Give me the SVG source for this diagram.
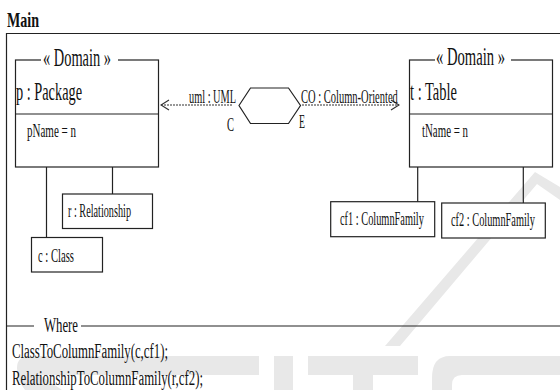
<svg xmlns="http://www.w3.org/2000/svg" width="560" height="390" viewBox="0 0 560 390">
<style>
text{font-family:"Liberation Serif","Times New Roman",serif;fill:#111}
.b{fill:#fff;stroke:#222;stroke-width:1.2}
.l{fill:none;stroke:#222;stroke-width:1.2}
.d{fill:none;stroke:#333;stroke-width:1.2;stroke-dasharray:2 1}
.wm{fill:#e8e8e8}
.t{font-size:25px}.n{font-size:25px}.a{font-size:18px}.s{font-size:18px}.w{font-size:20px}
</style>
<defs><marker id="o" markerWidth="10" markerHeight="12" refX="9" refY="6" orient="auto" markerUnits="userSpaceOnUse"><path d="M1 1L9 6L1 11" fill="none" stroke="#333" stroke-width="1.2"/></marker></defs>
<g id="watermark">
<path class="wm" d="M385 346L535 172L560 187V200L537 184L400 346Z"/>
<path class="wm" d="M30 356H259V375H40L62 390H25Q17 380 17 368Q17 356 30 356Z"/>
<rect class="wm" x="274" y="356" width="19" height="34"/>
<rect class="wm" x="308" y="356" width="110" height="19"/>
<rect class="wm" x="353" y="375" width="20" height="15"/>
<path class="wm" d="M450 356H560V375H462Q452 375 452 385V390H432V378Q432 356 450 356Z"/>
</g>
<text x="7" y="27" font-weight="bold" font-size="21" textLength="32" lengthAdjust="spacingAndGlyphs">Main</text>
<g id="frame"><path class="l" d="M560 33.500H6.500V390"/></g>
<g id="connectors">
<path class="l" d="M46.500 167V238M112.500 167V194M417.700 167V202M523.300 167V203"/>
<path class="d" d="M232 105H161" marker-end="url(#o)"/>
<path class="d" d="M302 105H399" marker-end="url(#o)"/>
</g>
<g id="domain-package">
<rect class="b" x="15.500" y="60" width="143" height="107"/>
<path d="M41 60H118" stroke="#fff" stroke-width="3"/>
<path class="l" d="M15.500 114H158.500"/>
<text class="t" x="43" y="66" textLength="68" lengthAdjust="spacingAndGlyphs">« Domain  »</text>
<text class="n" x="16" y="100" textLength="66" lengthAdjust="spacingAndGlyphs">p : Package</text>
<text class="a" x="27" y="137" textLength="49" lengthAdjust="spacingAndGlyphs">pName = n</text>
</g>
<g id="domain-table">
<rect class="b" x="409.500" y="60" width="143" height="107"/>
<path d="M435 60H511" stroke="#fff" stroke-width="3"/>
<path class="l" d="M409.500 114H552.500"/>
<text class="t" x="436" y="65" textLength="69" lengthAdjust="spacingAndGlyphs">« Domain  »</text>
<text class="n" x="410" y="100" textLength="47" lengthAdjust="spacingAndGlyphs">t : Table</text>
<text class="a" x="422" y="137" textLength="46" lengthAdjust="spacingAndGlyphs">tName = n</text>
</g>
<g id="relation">
<path class="b" d="M239 105.500L250.500 88H288.500L300.500 105.500L288.500 123.500H250.500Z"/>
<text class="a" x="189" y="103" textLength="47" lengthAdjust="spacingAndGlyphs">uml : UML</text>
<text class="a" x="227" y="131" textLength="7" lengthAdjust="spacingAndGlyphs">C</text>
<text class="a" transform="translate(301 103) scale(.584 1)">CO : Column-Oriented</text>
<text class="a" x="299" y="128" textLength="6" lengthAdjust="spacingAndGlyphs">E</text>
</g>
<g id="node-r"><rect class="b" x="62.500" y="194" width="90" height="34.500"/><text class="s" x="68" y="217" textLength="63" lengthAdjust="spacingAndGlyphs">r : Relationship</text></g>
<g id="node-c"><rect class="b" x="31.500" y="237.500" width="71" height="34.500"/><text class="s" x="38" y="262" textLength="36" lengthAdjust="spacingAndGlyphs">c : Class</text></g>
<g id="node-cf1"><rect class="b" x="330.700" y="201.700" width="104" height="35"/><text class="s" transform="translate(340 225) scale(.575 1)">cf1 : ColumnFamily</text></g>
<g id="node-cf2"><rect class="b" x="441.700" y="203" width="103.600" height="35"/><text class="s" transform="translate(451 226) scale(.575 1)">cf2 : ColumnFamily</text></g>
<g id="where">
<path class="l" d="M6.500 326H34M81 326H560"/>
<text class="w" x="44" y="332" textLength="34" lengthAdjust="spacingAndGlyphs">Where</text>
<text class="w" x="12" y="358" textLength="156" lengthAdjust="spacingAndGlyphs">ClassToColumnFamily(c,cf1);</text>
<text class="w" x="12" y="385" textLength="191" lengthAdjust="spacingAndGlyphs">RelationshipToColumnFamily(r,cf2);</text>
</g>
</svg>
